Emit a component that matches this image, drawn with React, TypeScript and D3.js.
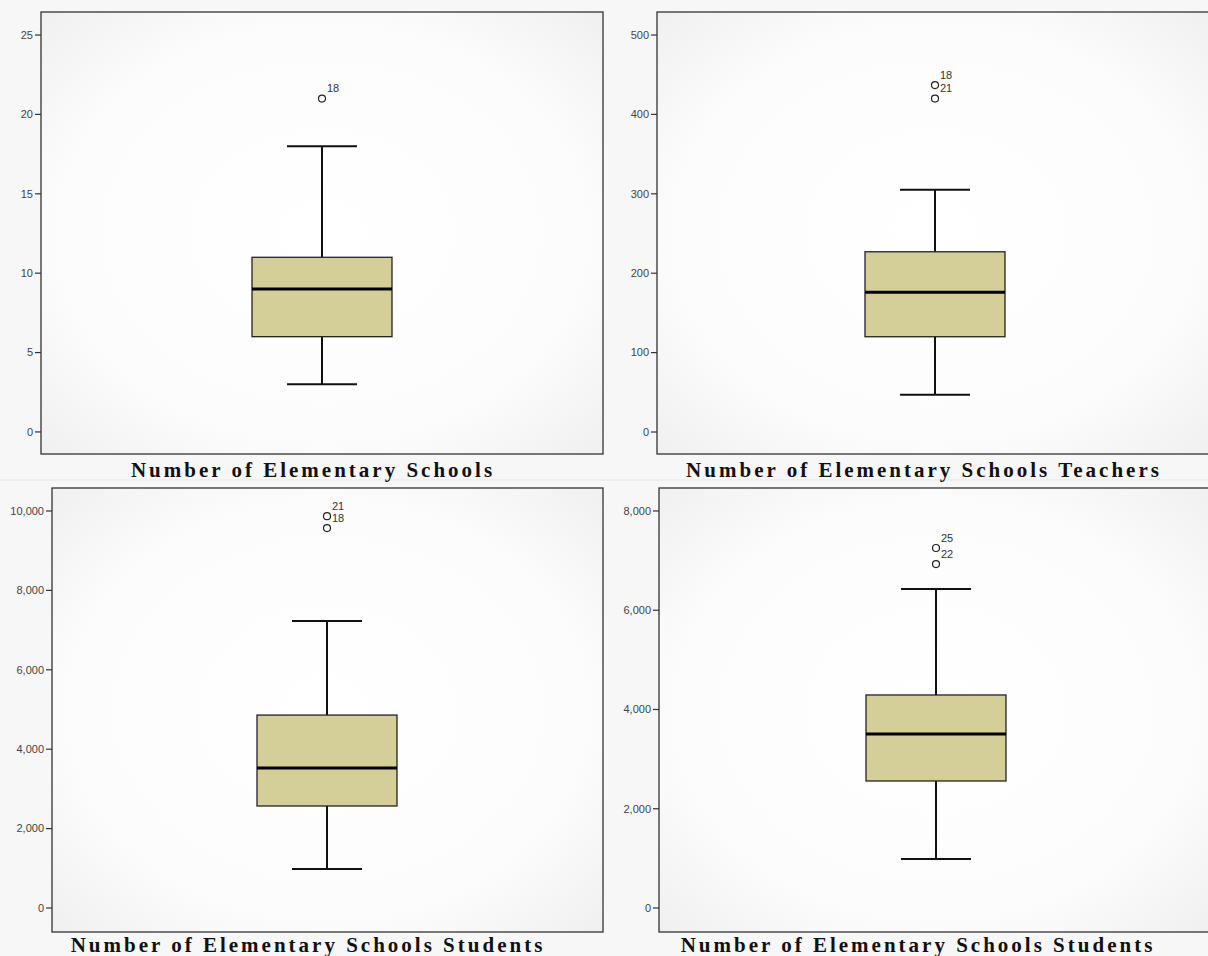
import React from "react";
import * as d3 from "d3";

const titles = [
  "Number of Elementary Schools",
  "Number of Elementary Schools Teachers",
  "Number of Elementary Schools Students",
  "Number of Elementary Schools Students",
];
const whiskerLow = [3, 47, 982, 987];
const q1 = [6, 120, 2570, 2559];
const median = [9, 176, 3525, 3506];
const q3 = [11, 227, 4860, 4292];
const whiskerHigh = [18, 305, 7230, 6428];
const outlierValues = [[21], [437, 420], [9870, 9570], [7254, 6931]];
const outlierLabels = [["18"], ["18", "21"], ["21", "18"], ["25", "22"]];
const tickValues = [
  [0, 5, 10, 15, 20, 25],
  [0, 100, 200, 300, 400, 500],
  [0, 2000, 4000, 6000, 8000, 10000],
  [0, 2000, 4000, 6000, 8000],
];
const domains: [number, number][] = [
  [-1.39, 26.45],
  [-27.7, 529],
  [-604, 10579],
  [-484, 8463],
];

// layout (pixels)
const frames = [
  { x0: 41, x1: 603, y0: 12, y1: 454, titleX: 313, titleY: 477 },
  { x0: 657, x1: 1212, y0: 12, y1: 454, titleX: 924, titleY: 477 },
  { x0: 52, x1: 603, y0: 488, y1: 932, titleX: 308, titleY: 952 },
  { x0: 659, x1: 1212, y0: 488, y1: 932, titleX: 918, titleY: 952 },
];
const boxCenters = [322, 935, 327, 936];

export default function App() {
  const fmt = d3.format(",");
  return (
    <svg
      width={1208}
      height={956}
      style={{ position: "absolute", left: 0, top: 0, background: "#fff" }}
    >
      <defs>
        <radialGradient id="vig" cx="50%" cy="50%" r="72%">
          <stop offset="0%" stopColor="#ffffff" />
          <stop offset="65%" stopColor="#fcfcfc" />
          <stop offset="100%" stopColor="#efefef" />
        </radialGradient>
      </defs>
      <rect x={0} y={0} width={1208} height={956} fill="#f7f7f7" />
      <line x1={0} x2={1208} y1={480} y2={480} stroke="#e6e6e6" />
      {frames.map((f, i) => {
        const y = d3.scaleLinear().domain(domains[i]).range([f.y1, f.y0]);
        const cx = boxCenters[i];
        const bw = 140;
        const cw = 70;
        return (
          <g key={i}>
            <rect
              x={f.x0}
              y={f.y0}
              width={f.x1 - f.x0}
              height={f.y1 - f.y0}
              fill="url(#vig)"
              stroke="#333"
              strokeWidth={1.3}
            />
            {tickValues[i].map((t) => (
              <g key={t}>
                <line x1={f.x0 - 6} x2={f.x0} y1={y(t)} y2={y(t)} stroke="#333" strokeWidth={1.2} />
                <text
                  x={f.x0 - 8}
                  y={y(t)}
                  dy="0.35em"
                  textAnchor="end"
                  fontFamily="Arial, 'Liberation Sans', sans-serif"
                  fontSize={11}
                  fill="#444"
                >
                  {fmt(t)}
                </text>
              </g>
            ))}
            {/* whiskers */}
            <line x1={cx} x2={cx} y1={y(whiskerHigh[i])} y2={y(q3[i])} stroke="#111" strokeWidth={2} />
            <line x1={cx} x2={cx} y1={y(q1[i])} y2={y(whiskerLow[i])} stroke="#111" strokeWidth={2} />
            <line x1={cx - cw / 2} x2={cx + cw / 2} y1={y(whiskerHigh[i])} y2={y(whiskerHigh[i])} stroke="#111" strokeWidth={2} />
            <line x1={cx - cw / 2} x2={cx + cw / 2} y1={y(whiskerLow[i])} y2={y(whiskerLow[i])} stroke="#111" strokeWidth={2} />
            {/* box */}
            <rect
              x={cx - bw / 2}
              y={y(q3[i])}
              width={bw}
              height={y(q1[i]) - y(q3[i])}
              fill="#d4cf99"
              stroke="#222"
              strokeWidth={1.3}
            />
            <line x1={cx - bw / 2} x2={cx + bw / 2} y1={y(median[i])} y2={y(median[i])} stroke="#000" strokeWidth={3} />
            {/* outliers */}
            {outlierValues[i].map((v, k) => (
              <g key={k}>
                <circle cx={cx} cy={y(v)} r={3.5} fill="none" stroke="#222" strokeWidth={1.2} />
                <text
                  x={cx + 5}
                  y={y(v) - 10}
                  dy="0.35em"
                  fontFamily="Arial, 'Liberation Sans', sans-serif"
                  fontSize={11}
                  fill="#333"
                >
                  {outlierLabels[i][k]}
                </text>
              </g>
            ))}
            <text
              x={f.titleX}
              y={f.titleY}
              textAnchor="middle"
              fontFamily="'Liberation Serif', 'Times New Roman', serif"
              fontWeight="bold"
              fontSize={21}
              letterSpacing={3}
              fill="#111"
            >
              {titles[i]}
            </text>
          </g>
        );
      })}
    </svg>
  );
}
